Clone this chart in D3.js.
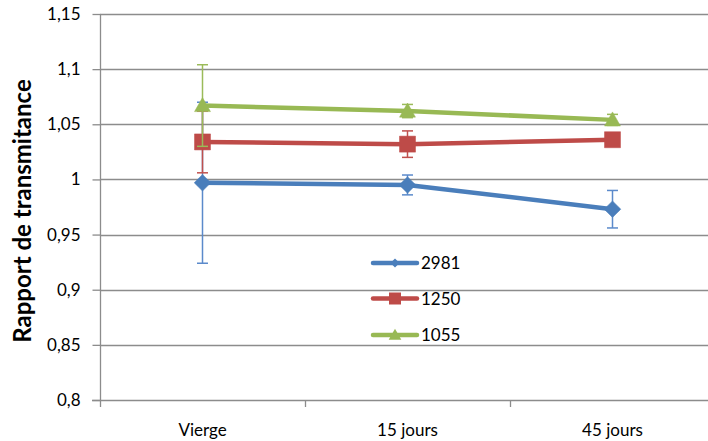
<!DOCTYPE html>
<html><head><meta charset="utf-8">
<script src="https://cdn.jsdelivr.net/npm/d3@7"></script>
<style>body{margin:0;background:#fff}svg{display:block}text{font-family:Lato,"Open Sans",sans-serif}</style>
</head><body><svg id="c" width="708" height="441"></svg>
<script>
const categories = ["Vierge", "15 jours", "45 jours"];
const seriesNames = ["2981", "1250", "1055"];
const values2981 = [0.997, 0.995, 0.973];
const errors2981 = [0.073, 0.009, 0.017];
const values1250 = [1.034, 1.032, 1.036];
const errors1250 = [0.028, 0.012, 0.002];
const values1055 = [1.067, 1.062, 1.054];
const errors1055 = [0.037, 0.006, 0.005];
const yTicks = [0.8, 0.85, 0.9, 0.95, 1, 1.05, 1.1, 1.15];
const yTickLabels = ["0,8", "0,85", "0,9", "0,95", "1", "1,05", "1,1", "1,15"];

const series = [
  {name: seriesNames[0], values: values2981, errors: errors2981, color: "#4A7EBB", errColor: "#5B8ACB", marker: "diamond"},
  {name: seriesNames[1], values: values1250, errors: errors1250, color: "#BE4B48", errColor: "#C0504D", marker: "square"},
  {name: seriesNames[2], values: values1055, errors: errors1055, color: "#98B954", errColor: "#9BBB59", marker: "triangle"}
];

const svg = d3.select("#c");
const pLeft = 100, pRight = 715, pTop = 14, pBottom = 400;
const x = d3.scaleBand().domain(categories).range([pLeft, pRight]);
const y = d3.scaleLinear().domain([0.8, 1.15]).range([pBottom, pTop]);
const grid = "#8c8c8c";

// gridlines
svg.append("g").selectAll("line").data(yTicks.slice(1)).join("line")
  .attr("x1", pLeft).attr("x2", pRight)
  .attr("y1", d => Math.round(y(d)) + 0.5).attr("y2", d => Math.round(y(d)) + 0.5)
  .attr("stroke", grid).attr("stroke-width", 1.3);

// y axis
const yAxis = d3.axisLeft(y).tickValues(yTicks).tickFormat((d, i) => yTickLabels[i]).tickSize(8).tickPadding(12);
const gy = svg.append("g").attr("transform", `translate(${pLeft + 0.5},0)`).call(yAxis);
gy.select(".domain").attr("stroke", grid).attr("stroke-width", 1.3).attr("d", `M0,${pTop}V${pBottom}`);
gy.selectAll(".tick line").attr("stroke", grid).attr("stroke-width", 1.3);
gy.selectAll(".tick text").attr("font-size", 17).attr("fill", "#000").attr("font-family", "Lato");

// x axis
const xAxis = d3.axisBottom(x).tickSize(0).tickPadding(23);
const gx = svg.append("g").attr("transform", `translate(0,${pBottom + 0.5})`).call(xAxis);
gx.select(".domain").attr("stroke", grid).attr("stroke-width", 1.3).attr("d", `M${pLeft - 8},0H${pRight}`);
gx.selectAll(".tick text").attr("font-size", 17).attr("fill", "#000").attr("font-family", "Lato");
svg.append("g").selectAll("line").data(categories).join("line")
  .attr("x1", d => Math.round(x(d)) + 0.5).attr("x2", d => Math.round(x(d)) + 0.5)
  .attr("y1", pBottom).attr("y2", pBottom + 7)
  .attr("stroke", grid).attr("stroke-width", 1.3);

// y title
svg.append("text").attr("transform", "translate(31,211) rotate(-90)")
  .attr("text-anchor", "middle").attr("font-weight", "bold").attr("font-size", 24)
  .attr("font-family", "Lato").text("Rapport de transmitance");

function markerPath(type, s) {
  if (type === "diamond") return `M0,${-s}L${s},0L0,${s}L${-s},0Z`;
  if (type === "square") return `M${-s},${-s}H${s}V${s}H${-s}Z`;
  return `M0,${-s * 1.05}L${s * 1.05},${s * 0.8}H${-s * 1.05}Z`;
}
const markerSize = {diamond: 8.3, square: 8, triangle: 7.6};

const cx = d => x(d) + x.bandwidth() / 2;
series.forEach(s => {
  const g = svg.append("g");
  const pts = categories.map((c, i) => ({c, v: s.values[i], e: s.errors[i]}));
  g.append("path").datum(pts)
    .attr("d", d3.line().x(d => cx(d.c)).y(d => y(d.v)))
    .attr("fill", "none").attr("stroke", s.color).attr("stroke-width", 4.5).attr("stroke-linejoin", "round");
  const eb = g.selectAll(".eb").data(pts).join("g");
  eb.append("line").attr("x1", d => cx(d.c)).attr("x2", d => cx(d.c))
    .attr("y1", d => y(d.v - d.e)).attr("y2", d => y(d.v + d.e))
    .attr("stroke", s.errColor).attr("stroke-width", 1.5);
  [-1, 1].forEach(k => {
    eb.append("line").attr("x1", d => cx(d.c) - 5.5).attr("x2", d => cx(d.c) + 5.5)
      .attr("y1", d => y(d.v + k * d.e)).attr("y2", d => y(d.v + k * d.e))
      .attr("stroke", s.errColor).attr("stroke-width", 1.5);
  });
  g.selectAll(".m").data(pts).join("path")
    .attr("transform", d => `translate(${cx(d.c)},${y(d.v)})`)
    .attr("d", markerPath(s.marker, markerSize[s.marker]))
    .attr("fill", s.color).attr("stroke", s.color).attr("stroke-width", 0.5);
});

// legend
const legY = [263, 298.5, 335];
const lg = svg.append("g").selectAll("g").data(series).join("g")
  .attr("transform", (d, i) => `translate(373,${legY[i]})`);
lg.append("line").attr("x1", 0).attr("x2", 44).attr("stroke", d => d.color).attr("stroke-width", 4.5).attr("stroke-linecap", "round");
lg.append("path").attr("transform", "translate(22,0)")
  .attr("d", d => markerPath(d.marker, d.marker === "diamond" ? 4.5 : 6))
  .attr("fill", d => d.color);
lg.append("text").attr("x", 48).attr("y", 0).attr("dy", "0.36em")
  .attr("font-size", 17).attr("font-family", "Lato").text(d => d.name);
</script></body></html>
